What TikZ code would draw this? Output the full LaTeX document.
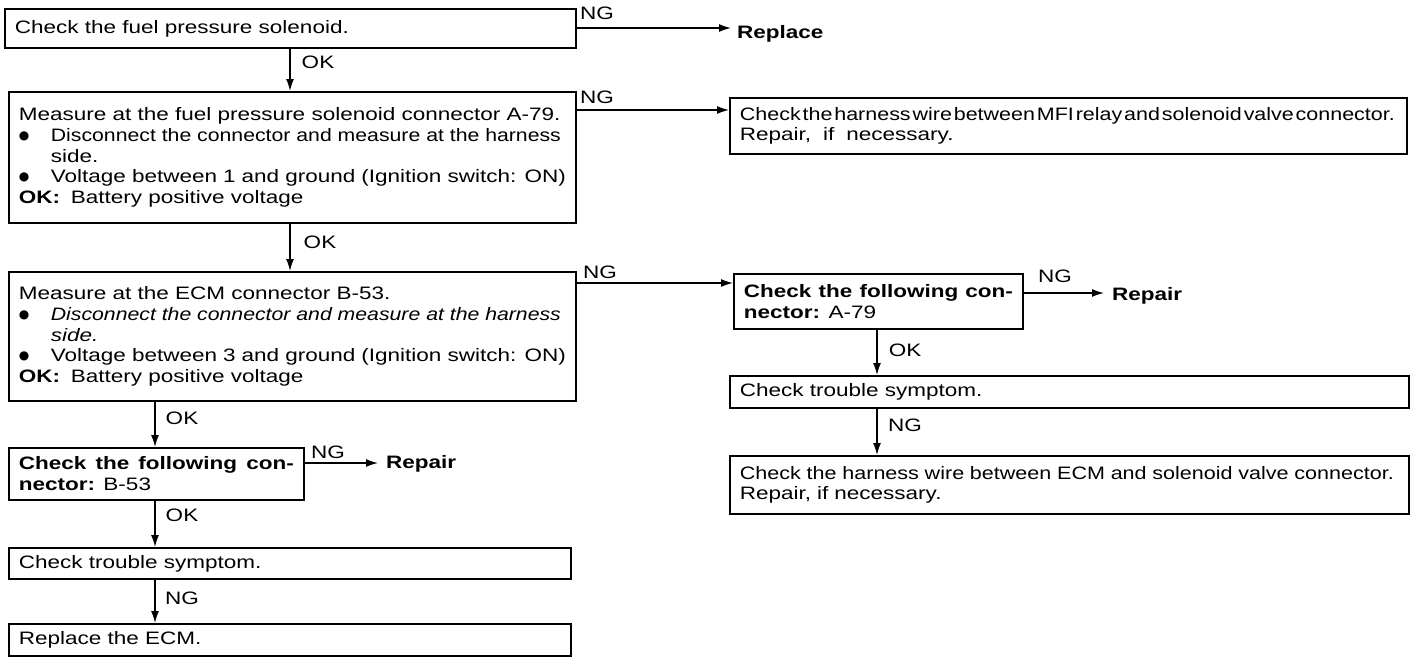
\documentclass[tikz,border=0pt]{standalone}
\usepackage{fontspec}
\setmainfont[FakeStretch=1.25]{Liberation Sans}
\newfontfamily\dejavu{DejaVu Sans}
\usetikzlibrary{arrows.meta}
\hyphenpenalty=10000
\newcommand{\fs}{\fontsize{18}{20.7}\selectfont}
\newcommand{\bul}{\raisebox{2pt}{\dejavu\fontsize{12}{12}\selectfont ●}}
\newcommand{\bitem}[1]{\par\hangindent=32pt\hangafter=1\noindent\makebox[32pt][l]{\bul}#1}
\newcommand{\okline}{\par\noindent\makebox[52pt][l]{\textbf{OK:}}Battery positive voltage}
\newcommand{\fit}[2]{\resizebox{#1}{\height}{#2}}
\tikzset{
  box/.style={draw, line width=1.8pt, anchor=north west, inner xsep=10pt, inner ysep=3pt, align=justify, font=\fs},
  arr/.style={line width=1.4pt, -{Latex[length=12pt,width=8pt]}},
  lbl/.style={font=\fs, inner sep=0pt},
}
\begin{document}
\begin{tikzpicture}[x=1pt,y=-1pt]
\useasboundingbox (0,0) rectangle (1424,664);
% left column boxes
\node[box, minimum width=571pt, minimum height=39pt, text width=551pt] (b1) at (4,8)
  {Check the fuel pressure solenoid.};
\node[box, minimum width=567pt, minimum height=131pt, text width=547pt] (b2) at (8,91)
  {\noindent Measure at the fuel pressure solenoid connector A-79.
   \bitem{\fit{510pt}{Disconnect the connector and measure at the harness}\linebreak side.}
   \bitem{Voltage between 1 and ground (Ignition switch: ON)}
   \okline};
\node[box, minimum width=567pt, minimum height=129pt, text width=547pt] (b3) at (8,271)
  {\noindent Measure at the ECM connector B-53.
   \bitem{\fit{510pt}{\textit{Disconnect the connector and measure at the harness}}\linebreak \textit{side.}}
   \bitem{Voltage between 3 and ground (Ignition switch: ON)}
   \okline};
\node[box, minimum width=295pt, minimum height=52pt, text width=275pt] (b4) at (8,447)
  {\noindent\textbf{Check the following con-\linebreak nector:} B-53};
\node[box, minimum width=562pt, minimum height=31pt, text width=542pt] (b5) at (8,547)
  {Check trouble symptom.};
\node[box, minimum width=562pt, minimum height=32pt, text width=542pt] (b6) at (8,623)
  {Replace the ECM.};
% right column boxes
\node[box, minimum width=677pt, minimum height=56pt, text width=657pt, align=left] (r1) at (729,97)
  {\fit{655pt}{\spaceskip=2pt Check the harness wire between MFI relay and solenoid valve connector.}\\Repair,\ \ if\ \ necessary.};
\node[box, minimum width=289pt, minimum height=55pt, text width=269pt] (r2) at (733,273)
  {\noindent\textbf{Check the following con-\linebreak nector:} A-79};
\node[box, minimum width=679pt, minimum height=32pt, text width=659pt] (r3) at (729,375)
  {Check trouble symptom.};
\node[box, minimum width=679pt, minimum height=58pt, text width=659pt, align=left] (r4) at (729,455)
  {\fit{654pt}{Check the harness wire between ECM and solenoid valve connector.}\\Repair, if necessary.};
% end texts
\node[lbl, anchor=west, font=\fs\bfseries] (rep1) at (737,34) {Replace};
\node[lbl, anchor=west, font=\fs\bfseries] (rep2) at (1112,296) {Repair};
\node[lbl, anchor=west, font=\fs\bfseries] (rep3) at (386,464) {Repair};
% connector x positions
\coordinate (xa) at (290,0);
\coordinate (xb) at (155,0);
\coordinate (xc) at (877,0);
% vertical arrows
\draw[arr] (b1.south -| xa) -- (b2.north -| xa);
\draw[arr] (b2.south -| xa) -- (b3.north -| xa);
\draw[arr] (b3.south -| xb) -- (b4.north -| xb);
\draw[arr] (b4.south -| xb) -- (b5.north -| xb);
\draw[arr] (b5.south -| xb) -- (b6.north -| xb);
\draw[arr] (r2.south -| xc) -- (r3.north -| xc);
\draw[arr] (r3.south -| xc) -- (r4.north -| xc);
% horizontal arrows
\draw[arr] ([yshift=-20pt]b1.north east) -- ([yshift=-20pt,xshift=-6pt]b1.north east -| rep1.west);
\draw[arr] ([yshift=-19pt]b2.north east) -- ([yshift=-19pt]b2.north east -| r1.west);
\draw[arr] ([yshift=-12pt]b3.north east) -- ([yshift=-12pt]b3.north east -| r2.west);
\draw[arr] ([yshift=-20pt]r2.north east) -- ([yshift=-20pt,xshift=-8pt]r2.north east -| rep2.west);
\draw[arr] ([yshift=-16pt]b4.north east) -- ([yshift=-16pt,xshift=-8pt]b4.north east -| rep3.west);
% labels
\node[lbl] at (597,13) {NG};
\node[lbl] at (318,62) {OK};
\node[lbl] at (597,97) {NG};
\node[lbl] at (320,242) {OK};
\node[lbl] at (600,272) {NG};
\node[lbl] at (182,418) {OK};
\node[lbl] at (328,452) {NG};
\node[lbl] at (182,515) {OK};
\node[lbl] at (182,598) {NG};
\node[lbl] at (1055,276) {NG};
\node[lbl] at (905,350) {OK};
\node[lbl] at (905,425) {NG};
\end{tikzpicture}
\end{document}
